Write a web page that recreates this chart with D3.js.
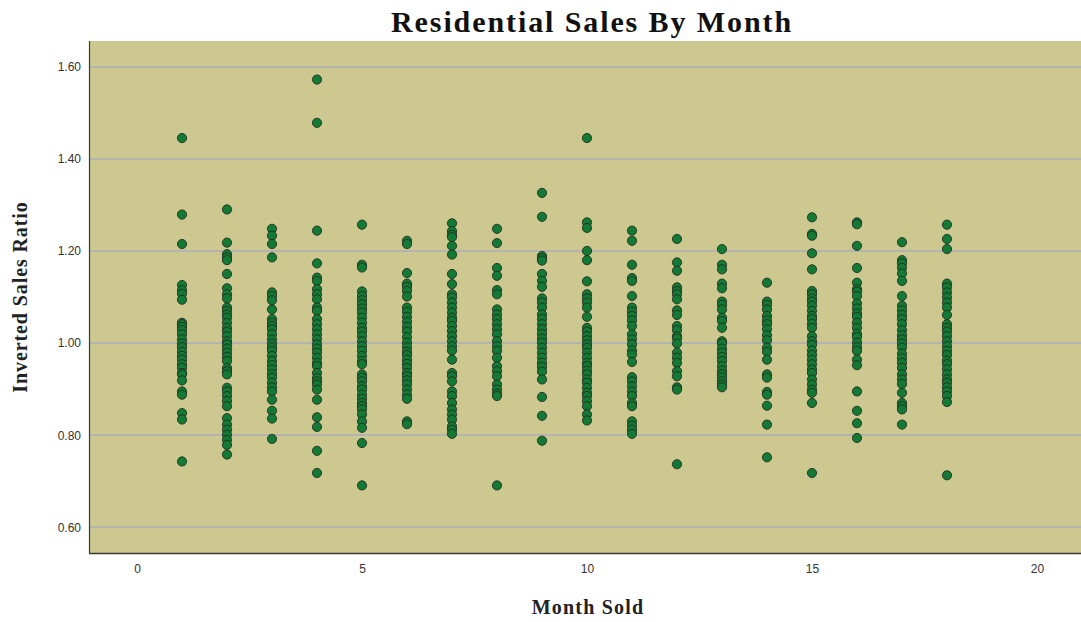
<!DOCTYPE html>
<html>
<head>
<meta charset="utf-8">
<script src="https://cdn.jsdelivr.net/npm/d3@7"></script>
<style>
  html, body { margin: 0; padding: 0; background: #ffffff; }
  svg { display: block; }
</style>
</head>
<body>
<svg id="chart" width="1081" height="622"></svg>
<script>
// Inverted sales ratio of each residential sale, grouped by month sold
const m1 = [1.445, 1.279, 1.215, 1.126, 1.115, 1.107, 1.094, 1.044, 1.041, 1.035, 1.028, 1.019, 1.008, 0.999, 0.991, 0.981, 0.972, 0.964, 0.954, 0.946, 0.935, 0.932, 0.919, 0.895, 0.888, 0.848, 0.834, 0.743];
const m2 = [1.290, 1.218, 1.193, 1.186, 1.180, 1.150, 1.119, 1.106, 1.097, 1.077, 1.070, 1.062, 1.055, 1.044, 1.033, 1.025, 1.015, 1.004, 0.997, 0.988, 0.979, 0.970, 0.961, 0.946, 0.939, 0.932, 0.903, 0.895, 0.885, 0.874, 0.863, 0.837, 0.823, 0.812, 0.801, 0.790, 0.779, 0.758];
const m3 = [1.248, 1.233, 1.215, 1.186, 1.110, 1.102, 1.093, 1.073, 1.052, 1.044, 1.037, 1.030, 1.019, 1.008, 0.999, 0.991, 0.983, 0.972, 0.961, 0.952, 0.943, 0.933, 0.925, 0.914, 0.904, 0.895, 0.877, 0.853, 0.836, 0.792];
const m4 = [1.572, 1.478, 1.244, 1.173, 1.142, 1.135, 1.117, 1.106, 1.095, 1.077, 1.070, 1.052, 1.041, 1.030, 1.019, 1.008, 0.997, 0.988, 0.979, 0.968, 0.957, 0.950, 0.935, 0.924, 0.917, 0.910, 0.899, 0.877, 0.839, 0.818, 0.766, 0.718];
const m5 = [1.257, 1.170, 1.164, 1.112, 1.102, 1.093, 1.084, 1.075, 1.066, 1.055, 1.044, 1.033, 1.025, 1.015, 1.004, 0.993, 0.983, 0.972, 0.961, 0.954, 0.932, 0.925, 0.917, 0.906, 0.899, 0.888, 0.879, 0.870, 0.863, 0.856, 0.845, 0.830, 0.816, 0.783, 0.691];
const m6 = [1.222, 1.215, 1.152, 1.129, 1.122, 1.113, 1.101, 1.077, 1.068, 1.057, 1.046, 1.035, 1.025, 1.013, 1.001, 0.991, 0.981, 0.974, 0.964, 0.955, 0.946, 0.935, 0.928, 0.919, 0.910, 0.899, 0.888, 0.879, 0.830, 0.824];
const m7 = [1.260, 1.243, 1.235, 1.230, 1.211, 1.192, 1.150, 1.128, 1.106, 1.099, 1.088, 1.077, 1.066, 1.055, 1.048, 1.037, 1.026, 1.015, 1.004, 0.993, 0.984, 0.964, 0.935, 0.928, 0.917, 0.895, 0.885, 0.870, 0.856, 0.845, 0.834, 0.819, 0.812, 0.803];
const m8 = [1.248, 1.217, 1.163, 1.146, 1.115, 1.106, 1.073, 1.062, 1.052, 1.041, 1.030, 1.019, 1.004, 0.993, 0.983, 0.968, 0.950, 0.939, 0.928, 0.910, 0.899, 0.890, 0.885, 0.691];
const m9 = [1.326, 1.274, 1.189, 1.184, 1.179, 1.150, 1.135, 1.122, 1.097, 1.088, 1.077, 1.062, 1.052, 1.041, 1.030, 1.020, 1.010, 1.001, 0.990, 0.979, 0.968, 0.957, 0.948, 0.938, 0.921, 0.883, 0.842, 0.788];
const m10 = [1.445, 1.262, 1.250, 1.200, 1.180, 1.134, 1.106, 1.097, 1.088, 1.077, 1.057, 1.033, 1.025, 1.015, 1.006, 0.997, 0.990, 0.979, 0.968, 0.957, 0.950, 0.940, 0.932, 0.921, 0.914, 0.903, 0.892, 0.885, 0.874, 0.863, 0.845, 0.832];
const m11 = [1.244, 1.222, 1.170, 1.141, 1.135, 1.102, 1.077, 1.068, 1.059, 1.049, 1.037, 1.019, 1.008, 0.997, 0.984, 0.975, 0.959, 0.926, 0.917, 0.906, 0.895, 0.885, 0.870, 0.863, 0.830, 0.821, 0.812, 0.803];
const m12 = [1.226, 1.175, 1.157, 1.121, 1.113, 1.106, 1.095, 1.071, 1.061, 1.037, 1.028, 1.015, 1.010, 0.999, 0.979, 0.968, 0.957, 0.939, 0.928, 0.904, 0.899, 0.737];
const m13 = [1.204, 1.170, 1.160, 1.129, 1.119, 1.090, 1.083, 1.073, 1.055, 1.048, 1.033, 1.004, 0.999, 0.988, 0.979, 0.970, 0.961, 0.950, 0.940, 0.932, 0.925, 0.917, 0.910, 0.904];
const m14 = [1.131, 1.090, 1.083, 1.073, 1.059, 1.049, 1.041, 1.030, 1.017, 1.006, 0.990, 0.981, 0.964, 0.932, 0.925, 0.894, 0.888, 0.864, 0.823, 0.752];
const m15 = [1.273, 1.237, 1.233, 1.195, 1.160, 1.113, 1.106, 1.097, 1.090, 1.081, 1.070, 1.059, 1.052, 1.042, 1.033, 1.015, 1.004, 0.996, 0.984, 0.974, 0.964, 0.954, 0.943, 0.935, 0.921, 0.910, 0.899, 0.892, 0.870, 0.718];
const m16 = [1.262, 1.258, 1.211, 1.163, 1.131, 1.117, 1.112, 1.102, 1.086, 1.075, 1.064, 1.057, 1.044, 1.033, 1.020, 1.013, 1.001, 0.991, 0.983, 0.964, 0.952, 0.895, 0.853, 0.826, 0.794];
const m17 = [1.219, 1.180, 1.173, 1.163, 1.151, 1.135, 1.102, 1.081, 1.071, 1.061, 1.052, 1.041, 1.028, 1.017, 1.008, 0.999, 0.990, 0.977, 0.967, 0.957, 0.946, 0.932, 0.921, 0.911, 0.892, 0.870, 0.863, 0.856, 0.823];
const m18 = [1.257, 1.226, 1.204, 1.129, 1.121, 1.110, 1.099, 1.088, 1.077, 1.061, 1.041, 1.033, 1.025, 1.015, 1.004, 0.993, 0.983, 0.974, 0.962, 0.954, 0.943, 0.932, 0.921, 0.914, 0.904, 0.895, 0.885, 0.872, 0.713];

const months = [1, 2, 3, 4, 5, 6, 7, 8, 9, 10, 11, 12, 13, 14, 15, 16, 17, 18];
const ratiosByMonth = [m1, m2, m3, m4, m5, m6, m7, m8, m9, m10, m11, m12, m13, m14, m15, m16, m17, m18];

const xTicks = [0, 5, 10, 15, 20];
const yTicks = [0.6, 0.8, 1.0, 1.2, 1.4, 1.6];

const titleText = "Residential Sales By Month";
const xTitle = "Month Sold";
const yTitle = "Inverted Sales Ratio";

// Flatten to one record per sale
const sales = [];
months.forEach((m, i) => ratiosByMonth[i].forEach(r => sales.push({ month: m, ratio: r })));

const svg = d3.select("#chart");
const plot = { left: 89, right: 1081, top: 41, bottom: 553 };

const x = d3.scaleLinear().domain([-1.067, 20.978]).range([plot.left, plot.right]);
const y = d3.scaleLinear().domain([0.5443, 1.6557]).range([plot.bottom, plot.top]);

// Plot background
svg.append("rect")
  .attr("x", plot.left).attr("y", plot.top)
  .attr("width", plot.right - plot.left).attr("height", plot.bottom - plot.top)
  .attr("fill", "#cdc88f");

// Horizontal gridlines
svg.append("g")
  .selectAll("line")
  .data(yTicks)
  .join("line")
  .attr("x1", plot.left).attr("x2", plot.right)
  .attr("y1", d => Math.round(y(d))).attr("y2", d => Math.round(y(d)))
  .attr("stroke", "#b4b4ae").attr("stroke-width", 2);

// Axes
const yAxis = d3.axisLeft(y).tickValues(yTicks).tickFormat(d3.format(".2f")).tickSize(0).tickPadding(8);
const xAxis = d3.axisBottom(x).tickValues(xTicks).tickFormat(d3.format("d")).tickSize(0).tickPadding(11);

const gy = svg.append("g").attr("transform", `translate(${plot.left},0)`).call(yAxis);
const gx = svg.append("g").attr("transform", `translate(0,${plot.bottom})`).call(xAxis);

[gx, gy].forEach(g => {
  g.select(".domain").remove();
  g.selectAll("text")
    .attr("font-family", "'Liberation Sans', Arial, sans-serif")
    .attr("font-size", 12)
    .attr("fill", "#333333");
});

// Axis lines
svg.append("line")
  .attr("x1", plot.left + 0.5).attr("x2", plot.left + 0.5)
  .attr("y1", plot.top).attr("y2", plot.bottom)
  .attr("stroke", "#3a3a3a").attr("stroke-width", 1.2);
svg.append("line")
  .attr("x1", plot.left).attr("x2", plot.right)
  .attr("y1", plot.bottom + 0.5).attr("y2", plot.bottom + 0.5)
  .attr("stroke", "#3a3a3a").attr("stroke-width", 1.5);

// Points
svg.append("g")
  .selectAll("circle")
  .data(sales)
  .join("circle")
  .attr("cx", d => x(d.month))
  .attr("cy", d => y(d.ratio))
  .attr("r", 4.6)
  .attr("fill", "#137a36")
  .attr("stroke", "#1d2a1d")
  .attr("stroke-opacity", 0.85)
  .attr("stroke-width", 1);

// Titles
const serif = "'Liberation Serif', 'Times New Roman', serif";
svg.append("text")
  .attr("x", 592).attr("y", 32)
  .attr("text-anchor", "middle")
  .attr("font-family", serif).attr("font-weight", "bold")
  .attr("font-size", 30).attr("letter-spacing", 1.9).attr("fill", "#111111")
  .text(titleText);

svg.append("text")
  .attr("x", 588).attr("y", 614)
  .attr("text-anchor", "middle")
  .attr("font-family", serif).attr("font-weight", "bold")
  .attr("font-size", 20).attr("letter-spacing", 1.2).attr("fill", "#222222")
  .text(xTitle);

svg.append("text")
  .attr("transform", "translate(27,297) rotate(-90)")
  .attr("text-anchor", "middle")
  .attr("font-family", serif).attr("font-weight", "bold")
  .attr("font-size", 20).attr("letter-spacing", 0.9).attr("fill", "#222222")
  .text(yTitle);
</script>
</body>
</html>
